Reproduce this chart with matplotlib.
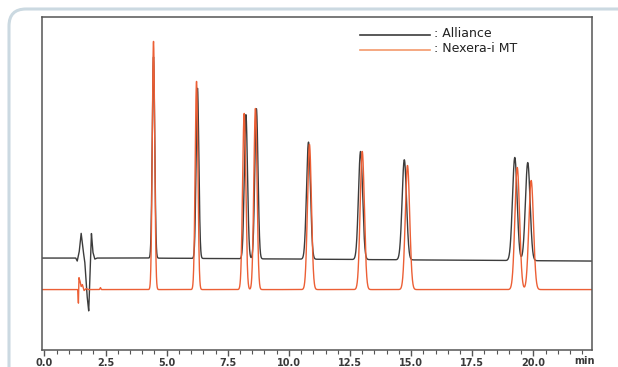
import numpy as np
import matplotlib
matplotlib.use('Agg')
import matplotlib.pyplot as plt
from matplotlib.patches import FancyBboxPatch
from matplotlib.lines import Line2D

plt.rcParams['font.family'] = ['DejaVu Sans']

# retention times (min), heights above baseline, peak widths (sigma, min)
alliance_rt = [4.46, 6.26, 8.24, 8.67, 10.80, 12.93, 14.72, 19.24, 19.77]
alliance_h = [201, 170, 144, 150, 117, 108, 100, 103, 98]
alliance_w = [0.05, 0.055, 0.065, 0.065, 0.08, 0.085, 0.09, 0.095, 0.095]
alliance_base_t = [0.0, 4.0, 10.0, 16.0, 22.4]
alliance_base_y = [92, 92, 91, 90, 89]
# void-volume disturbance (offset from baseline)
alliance_dist_t = [1.28, 1.34, 1.42, 1.50, 1.58, 1.65, 1.74, 1.81, 1.87, 1.92, 1.98, 2.06, 2.15]
alliance_dist_y = [0, -3, 6, 25, 8, -4, -37, -53, -12, 25, 6, -1, 0]

nexera_rt = [4.46, 6.22, 8.17, 8.63, 10.84, 13.00, 14.85, 19.34, 19.91]
nexera_h = [248, 208, 176, 181, 145, 138, 124, 122, 109]
nexera_w = [0.05, 0.055, 0.065, 0.065, 0.08, 0.085, 0.09, 0.095, 0.095]
nexera_base_t = [0.0, 22.4]
nexera_base_y = [60.5, 60.5]
nexera_dist_t = [1.36, 1.39, 1.41, 1.45, 1.50, 1.55, 1.62, 1.70, 1.80, 2.25, 2.29, 2.33]
nexera_dist_y = [0, -14, 12, 9, 3, 5, -1, 1, 0, 0, 2, 0]

series_names = [': Alliance', ': Nexera-i MT']
tick_vals = [0.0, 2.5, 5.0, 7.5, 10.0, 12.5, 15.0, 17.5, 20.0]

BLACK = '#3c3c3c'
ORANGE = '#ec5f35'


def trace(t, rt, h, w, bt, by, dt, dy):
    y = np.interp(t, bt, by)
    for r, a, s in zip(rt, h, w):
        y = y + a * np.exp(-0.5 * ((t - r) / s) ** 2)
    y = y + np.interp(t, dt, dy, left=0, right=0)
    return y


def main():
    fig = plt.figure(figsize=(6.18, 3.67), dpi=100)
    box = FancyBboxPatch((9, -40), 660, 398, boxstyle='round,pad=0,rounding_size=17',
                         transform=None, facecolor='none', edgecolor='#cbd9e1',
                         linewidth=2.2, zorder=0)
    fig.patches.append(box)

    ax = fig.add_axes([0.068, 0.046, 0.890, 0.908])
    t = np.linspace(-0.1, 22.4, 6000)
    y1 = trace(t, alliance_rt, alliance_h, alliance_w, alliance_base_t, alliance_base_y,
               alliance_dist_t, alliance_dist_y)
    y2 = trace(t, nexera_rt, nexera_h, nexera_w, nexera_base_t, nexera_base_y,
               nexera_dist_t, nexera_dist_y)
    ax.plot(t, y1, color=BLACK, lw=1.0)
    ax.plot(t, y2, color=ORANGE, lw=1.0)

    ax.set_xlim(-0.1, 22.4)
    ax.set_ylim(0, 333)
    ax.set_yticks([])
    ax.set_xticks(tick_vals)
    ax.set_xticklabels(['%.1f' % v for v in tick_vals])
    ax.set_xticks(np.arange(0, 22.01, 0.5), minor=True)
    ax.tick_params(axis='x', which='major', direction='out', length=4, width=1,
                   color='#555555', labelsize=7, labelcolor='#3a3a3a', pad=2)
    ax.tick_params(axis='x', which='minor', direction='out', length=3, width=0.8,
                   color='#555555')
    for lab in ax.get_xticklabels():
        lab.set_fontweight('bold')
    for sp in ax.spines.values():
        sp.set_color('#555555')
        sp.set_linewidth(1.1)
    ax.text(22.1, -6, 'min', ha='center', va='top', fontsize=7,
            fontweight='bold', color='#3a3a3a', clip_on=False)

    # legend
    for yy, col, lab in [(0.946, BLACK, series_names[0]), (0.900, '#f39a6c', series_names[1])]:
        ax.add_line(Line2D([0.578, 0.706], [yy, yy], transform=ax.transAxes,
                           color=col, lw=1.2))
        ax.text(0.712, yy + 0.004, lab, transform=ax.transAxes, ha='left', va='center',
                fontsize=9, color='#222222')

    fig.savefig('out.png', dpi=100)


if __name__ == '__main__':
    main()
